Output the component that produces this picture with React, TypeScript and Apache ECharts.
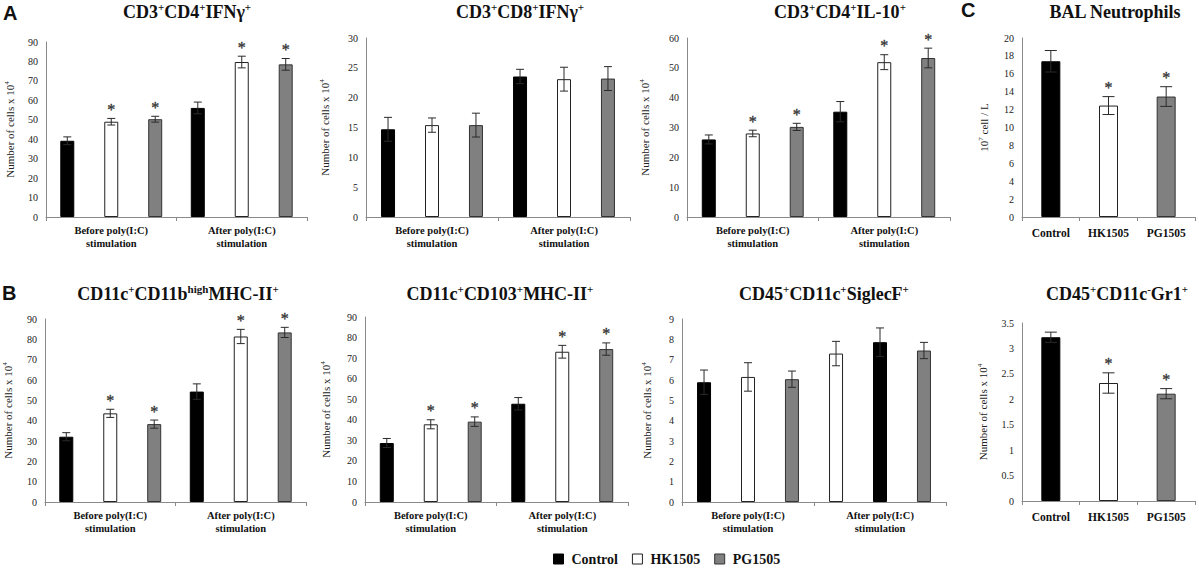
import React, { useEffect, useRef } from 'react';
import * as echarts from 'echarts';

// ---------- categories & labels ----------
const stimCategories = ['Before poly(I:C)\nstimulation', 'After poly(I:C)\nstimulation'];
const groupNames = ['Control', 'HK1505', 'PG1505'];

// ---------- A: CD3+CD4+IFNγ+ ----------
const cd4IfngControl = [39.2, 56.1];
const cd4IfngHk = [49.0, 79.7];
const cd4IfngPg = [50.3, 78.5];
const cd4IfngControlErr = [2.0, 3.0];
const cd4IfngHkErr = [1.7, 3.0];
const cd4IfngPgErr = [1.5, 3.0];
const cd4IfngSig = [[false, false], [true, true], [true, true]];

// ---------- A: CD3+CD8+IFNγ+ ----------
const cd8IfngControl = [14.7, 23.55];
const cd8IfngHk = [15.4, 23.1];
const cd8IfngPg = [15.4, 23.2];
const cd8IfngControlErr = [2.0, 1.2];
const cd8IfngHkErr = [1.2, 2.0];
const cd8IfngPgErr = [2.0, 2.0];
const cd8IfngSig = [[false, false], [false, false], [false, false]];

// ---------- A: CD3+CD4+IL-10+ ----------
const cd4Il10Control = [26.0, 35.3];
const cd4Il10Hk = [28.0, 51.9];
const cd4Il10Pg = [30.2, 53.3];
const cd4Il10ControlErr = [1.5, 3.4];
const cd4Il10HkErr = [1.1, 2.5];
const cd4Il10PgErr = [1.2, 3.3];
const cd4Il10Sig = [[false, false], [true, true], [true, true]];

// ---------- B: CD11c+CD11bhighMHC-II+ ----------
const cd11bControl = [32.1, 54.3];
const cd11bHk = [43.6, 81.4];
const cd11bPg = [38.3, 83.4];
const cd11bControlErr = [2.0, 3.8];
const cd11bHkErr = [2.0, 3.5];
const cd11bPgErr = [2.0, 2.5];
const cd11bSig = [[false, false], [true, true], [true, true]];

// ---------- B: CD11c+CD103+MHC-II+ ----------
const cd103Control = [28.7, 47.8];
const cd103Hk = [37.8, 73.1];
const cd103Pg = [39.1, 74.4];
const cd103ControlErr = [2.2, 3.0];
const cd103HkErr = [2.2, 3.1];
const cd103PgErr = [2.3, 3.0];
const cd103Sig = [[false, false], [true, true], [true, true]];

// ---------- B: CD45+CD11c+SiglecF+ ----------
const siglecControl = [5.89, 7.86];
const siglecHk = [6.15, 7.3];
const siglecPg = [6.04, 7.45];
const siglecControlErr = [0.6, 0.7];
const siglecHkErr = [0.7, 0.6];
const siglecPgErr = [0.4, 0.4];
const siglecSig = [[false, false], [false, false], [false, false]];
// bar order within each category, as drawn (After group shows HK1505 first)
const siglecOrder = [[0, 1, 2], [1, 0, 2]];

// ---------- C: BAL Neutrophils ----------
const balValues = [17.4, 12.45, 13.46];
const balErr = [1.2, 1.0, 1.1];
const balSig = [false, true, true];

// ---------- C: CD45+CD11c-Gr1+ ----------
const gr1Values = [3.22, 2.32, 2.11];
const gr1Err = [0.1, 0.2, 0.1];
const gr1Sig = [false, true, true];

// ---------- styles ----------
const SERIF = '"Liberation Serif", "Times New Roman", serif';
const SANS = '"Liberation Sans", Arial, sans-serif';
const barStyles = [
  { color: '#000000', borderColor: '#000000', borderWidth: 1 },
  { color: '#ffffff', borderColor: '#222222', borderWidth: 1 },
  { color: '#808080', borderColor: '#333333', borderWidth: 1 },
];
const AXIS_COLOR = '#8a8a8a';
const MARK_COLOR = '#2a2a2a';

type GroupPanel = {
  mode: 'group';
  left: number; top: number; width: number; height: number;
  max: number; interval: number; yName: string | null; nameGap: number;
  values: number[][]; errs: number[][]; sig: boolean[][]; order?: number[][];
};
type SinglePanel = {
  mode: 'single';
  left: number; top: number; width: number; height: number;
  max: number; interval: number; yName: string; nameGap: number;
  values: number[]; errs: number[]; sig: boolean[];
};

const cellsName = '{n|Number of cells x 10}{s|4}';

const panels: (GroupPanel | SinglePanel)[] = [
  {
    mode: 'group', left: 46, top: 42, width: 261, height: 175, max: 90, interval: 10,
    yName: cellsName, nameGap: 29,
    values: [cd4IfngControl, cd4IfngHk, cd4IfngPg],
    errs: [cd4IfngControlErr, cd4IfngHkErr, cd4IfngPgErr], sig: cd4IfngSig,
  },
  {
    mode: 'group', left: 366, top: 38, width: 264, height: 179, max: 30, interval: 5,
    yName: cellsName, nameGap: 34,
    values: [cd8IfngControl, cd8IfngHk, cd8IfngPg],
    errs: [cd8IfngControlErr, cd8IfngHkErr, cd8IfngPgErr], sig: cd8IfngSig,
  },
  {
    mode: 'group', left: 687, top: 38, width: 263, height: 179, max: 60, interval: 10,
    yName: cellsName, nameGap: 35,
    values: [cd4Il10Control, cd4Il10Hk, cd4Il10Pg],
    errs: [cd4Il10ControlErr, cd4Il10HkErr, cd4Il10PgErr], sig: cd4Il10Sig,
  },
  {
    mode: 'single', left: 1022, top: 38, width: 173, height: 179, max: 20, interval: 2,
    yName: '{n|10}{s|7}{n| cell / L}', nameGap: 31,
    values: balValues, errs: balErr, sig: balSig,
  },
  {
    mode: 'group', left: 45, top: 319, width: 261, height: 183, max: 90, interval: 10,
    yName: cellsName, nameGap: 30,
    values: [cd11bControl, cd11bHk, cd11bPg],
    errs: [cd11bControlErr, cd11bHkErr, cd11bPgErr], sig: cd11bSig,
  },
  {
    mode: 'group', left: 365, top: 317, width: 263, height: 185, max: 90, interval: 10,
    yName: cellsName, nameGap: 32,
    values: [cd103Control, cd103Hk, cd103Pg],
    errs: [cd103ControlErr, cd103HkErr, cd103PgErr], sig: cd103Sig,
  },
  {
    mode: 'group', left: 682, top: 319, width: 264, height: 183, max: 9, interval: 1,
    yName: cellsName, nameGap: 28,
    values: [siglecControl, siglecHk, siglecPg],
    errs: [siglecControlErr, siglecHkErr, siglecPgErr], sig: siglecSig, order: siglecOrder,
  },
  {
    mode: 'single', left: 1022, top: 323, width: 173, height: 178, max: 3.5, interval: 0.5,
    yName: cellsName, nameGap: 32,
    values: gr1Values, errs: gr1Err, sig: gr1Sig,
  },
];

const titleRich = {
  b: { fontFamily: SERIF, fontWeight: 'bold', fontSize: 18, lineHeight: 22, fill: '#111', color: '#111' },
  s: { fontFamily: SERIF, fontWeight: 'bold', fontSize: 11, lineHeight: 11, verticalAlign: 'top', fill: '#111', color: '#111' },
};

const titles = [
  { x: 187, y: 12, text: '{b|CD3}{s|+}{b|CD4}{s|+}{b|IFNγ}{s|+}' },
  { x: 520, y: 12, text: '{b|CD3}{s|+}{b|CD8}{s|+}{b|IFNγ}{s|+}' },
  { x: 840, y: 12, text: '{b|CD3}{s|+}{b|CD4}{s|+}{b|IL-10}{s|+}' },
  { x: 1115, y: 12, text: '{b|BAL Neutrophils}' },
  { x: 178, y: 294, text: '{b|CD11c}{s|+}{b|CD11b}{s|high}{b|MHC-II}{s|+}' },
  { x: 500, y: 294, text: '{b|CD11c}{s|+}{b|CD103}{s|+}{b|MHC-II}{s|+}' },
  { x: 824, y: 294, text: '{b|CD45}{s|+}{b|CD11c}{s|+}{b|SiglecF}{s|+}' },
  { x: 1117, y: 294, text: '{b|CD45}{s|+}{b|CD11c}{s|-}{b|Gr1}{s|+}' },
];

const letters = [
  { x: 3, y: 3, text: 'A' },
  { x: 2, y: 283, text: 'B' },
  { x: 961, y: 0, text: 'C' },
];

function buildOption() {
  const grid: any[] = [];
  const xAxis: any[] = [];
  const yAxis: any[] = [];
  const series: any[] = [];

  panels.forEach((p, i) => {
    grid.push({ left: p.left, top: p.top, width: p.width, height: p.height });
    const cats = p.mode === 'group' ? stimCategories : groupNames;
    xAxis.push({
      type: 'category',
      gridIndex: i,
      data: cats,
      axisLine: { lineStyle: { color: AXIS_COLOR, width: 1 } },
      axisTick: { show: true, length: 4, lineStyle: { color: AXIS_COLOR } },
      axisLabel: {
        interval: 0,
        fontFamily: SERIF,
        fontWeight: 'bold',
        fontSize: p.mode === 'group' ? 10.5 : 11.5,
        lineHeight: 13,
        color: '#111',
        margin: p.mode === 'group' ? 7 : 9,
      },
      splitLine: { show: false },
    });
    yAxis.push({
      type: 'value',
      gridIndex: i,
      min: 0,
      max: p.max,
      interval: p.interval,
      axisLine: { show: true, lineStyle: { color: AXIS_COLOR, width: 1 } },
      axisTick: { show: false },
      splitLine: { show: false },
      axisLabel: { fontFamily: SERIF, fontSize: 10, color: '#222', margin: 8 },
      name: p.yName || '',
      nameLocation: 'middle',
      nameRotate: 90,
      nameGap: p.nameGap,
      nameTextStyle: {
        fontFamily: SERIF,
        fontSize: 11,
        color: '#222',
        rich: {
          n: { fontFamily: SERIF, fontSize: 11, lineHeight: 14, color: '#222' },
          s: { fontFamily: SERIF, fontSize: 7, lineHeight: 7, verticalAlign: 'top', color: '#222' },
        },
      },
    });

    const errData: any[] = [];
    let spacing = 0;
    let capHalf = 4;
    if (p.mode === 'group') {
      const barW = 14;
      const gapRatio = 2.14;
      spacing = barW * (1 + gapRatio);
      capHalf = 4;
      for (let s = 0; s < 3; s++) {
        series.push({
          type: 'bar',
          name: groupNames[s],
          xAxisIndex: i,
          yAxisIndex: i,
          barWidth: barW,
          barGap: gapRatio * 100 + '%',
          data: cats.map((_, j) => {
            const k = p.order ? p.order[j][s] : s;
            return { value: p.values[k][j], itemStyle: barStyles[k] };
          }),
        });
        cats.forEach((_, j) => {
          const k = p.order ? p.order[j][s] : s;
          errData.push([j, p.values[k][j], p.errs[k][j], s - 1, p.sig[k][j] ? 1 : 0]);
        });
      }
    } else {
      capHalf = 6;
      series.push({
        type: 'bar',
        name: 'panel' + i,
        xAxisIndex: i,
        yAxisIndex: i,
        barWidth: 19,
        data: p.values.map((v, j) => ({ value: v, itemStyle: barStyles[j] })),
      });
      p.values.forEach((v, j) => {
        errData.push([j, v, p.errs[j], 0, p.sig[j] ? 1 : 0]);
      });
    }

    series.push({
      type: 'custom',
      name: 'err' + i,
      xAxisIndex: i,
      yAxisIndex: i,
      z: 5,
      clip: false,
      itemStyle: { color: MARK_COLOR },
      data: errData,
      renderItem: (params: any, api: any) => {
        const cat = api.value(0);
        const v = api.value(1);
        const e = api.value(2);
        const slot = api.value(3);
        const star = api.value(4);
        const base = api.coord([cat, v]);
        const x = base[0] + slot * spacing;
        const yT = api.coord([cat, v + e])[1];
        const yB = api.coord([cat, v - e])[1];
        const st = { stroke: MARK_COLOR, lineWidth: 1 };
        const children: any[] = [
          { type: 'line', shape: { x1: x, y1: yT, x2: x, y2: yB }, style: st },
          { type: 'line', shape: { x1: x - capHalf, y1: yT, x2: x + capHalf, y2: yT }, style: st },
          { type: 'line', shape: { x1: x - capHalf, y1: yB, x2: x + capHalf, y2: yB }, style: st },
        ];
        if (star) {
          children.push({
            type: 'text',
            x,
            y: yT - 1,
            style: {
              text: '*',
              align: 'center',
              verticalAlign: 'bottom',
              font: '16px ' + SERIF,
              fill: '#333333',
              stroke: '#333333',
              lineWidth: 0.4,
              opacity: 0.99,
            },
          });
        }
        return { type: 'group', children };
      },
    });
  });

  const graphic: any[] = [];
  titles.forEach((t) => {
    graphic.push({
      type: 'text',
      x: t.x,
      y: t.y,
      style: {
        text: t.text,
        align: 'center',
        verticalAlign: 'middle',
        rich: titleRich,
        fill: '#111',
      },
    });
  });
  letters.forEach((l) => {
    graphic.push({
      type: 'text',
      x: l.x,
      y: l.y,
      style: {
        text: l.text,
        fontFamily: SANS,
        fontWeight: 'bold',
        fontSize: 20,
        fill: '#111',
        verticalAlign: 'top',
      },
    });
  });

  return {
    animation: false,
    backgroundColor: '#ffffff',
    grid,
    xAxis,
    yAxis,
    series,
    graphic,
    legend: {
      left: 553,
      top: 552,
      padding: 0,
      icon: 'rect',
      itemWidth: 10,
      itemHeight: 10,
      itemGap: 14,
      selectedMode: false,
      textStyle: { fontFamily: SERIF, fontWeight: 'bold', fontSize: 14, color: '#111', padding: [0, 0, 0, 3] },
      data: groupNames.map((n, k) => ({ name: n, itemStyle: barStyles[k] })),
    },
  };
}

export default function App() {
  const ref = useRef<HTMLDivElement>(null);
  useEffect(() => {
    if (!ref.current) return;
    const chart = echarts.init(ref.current, undefined, { renderer: 'svg' });
    chart.setOption(buildOption() as any);
    return () => {
      chart.dispose();
    };
  }, []);
  return (
    <div
      ref={ref}
      style={{ position: 'absolute', left: 0, top: 0, width: 1199, height: 568, background: '#fff' }}
    />
  );
}
